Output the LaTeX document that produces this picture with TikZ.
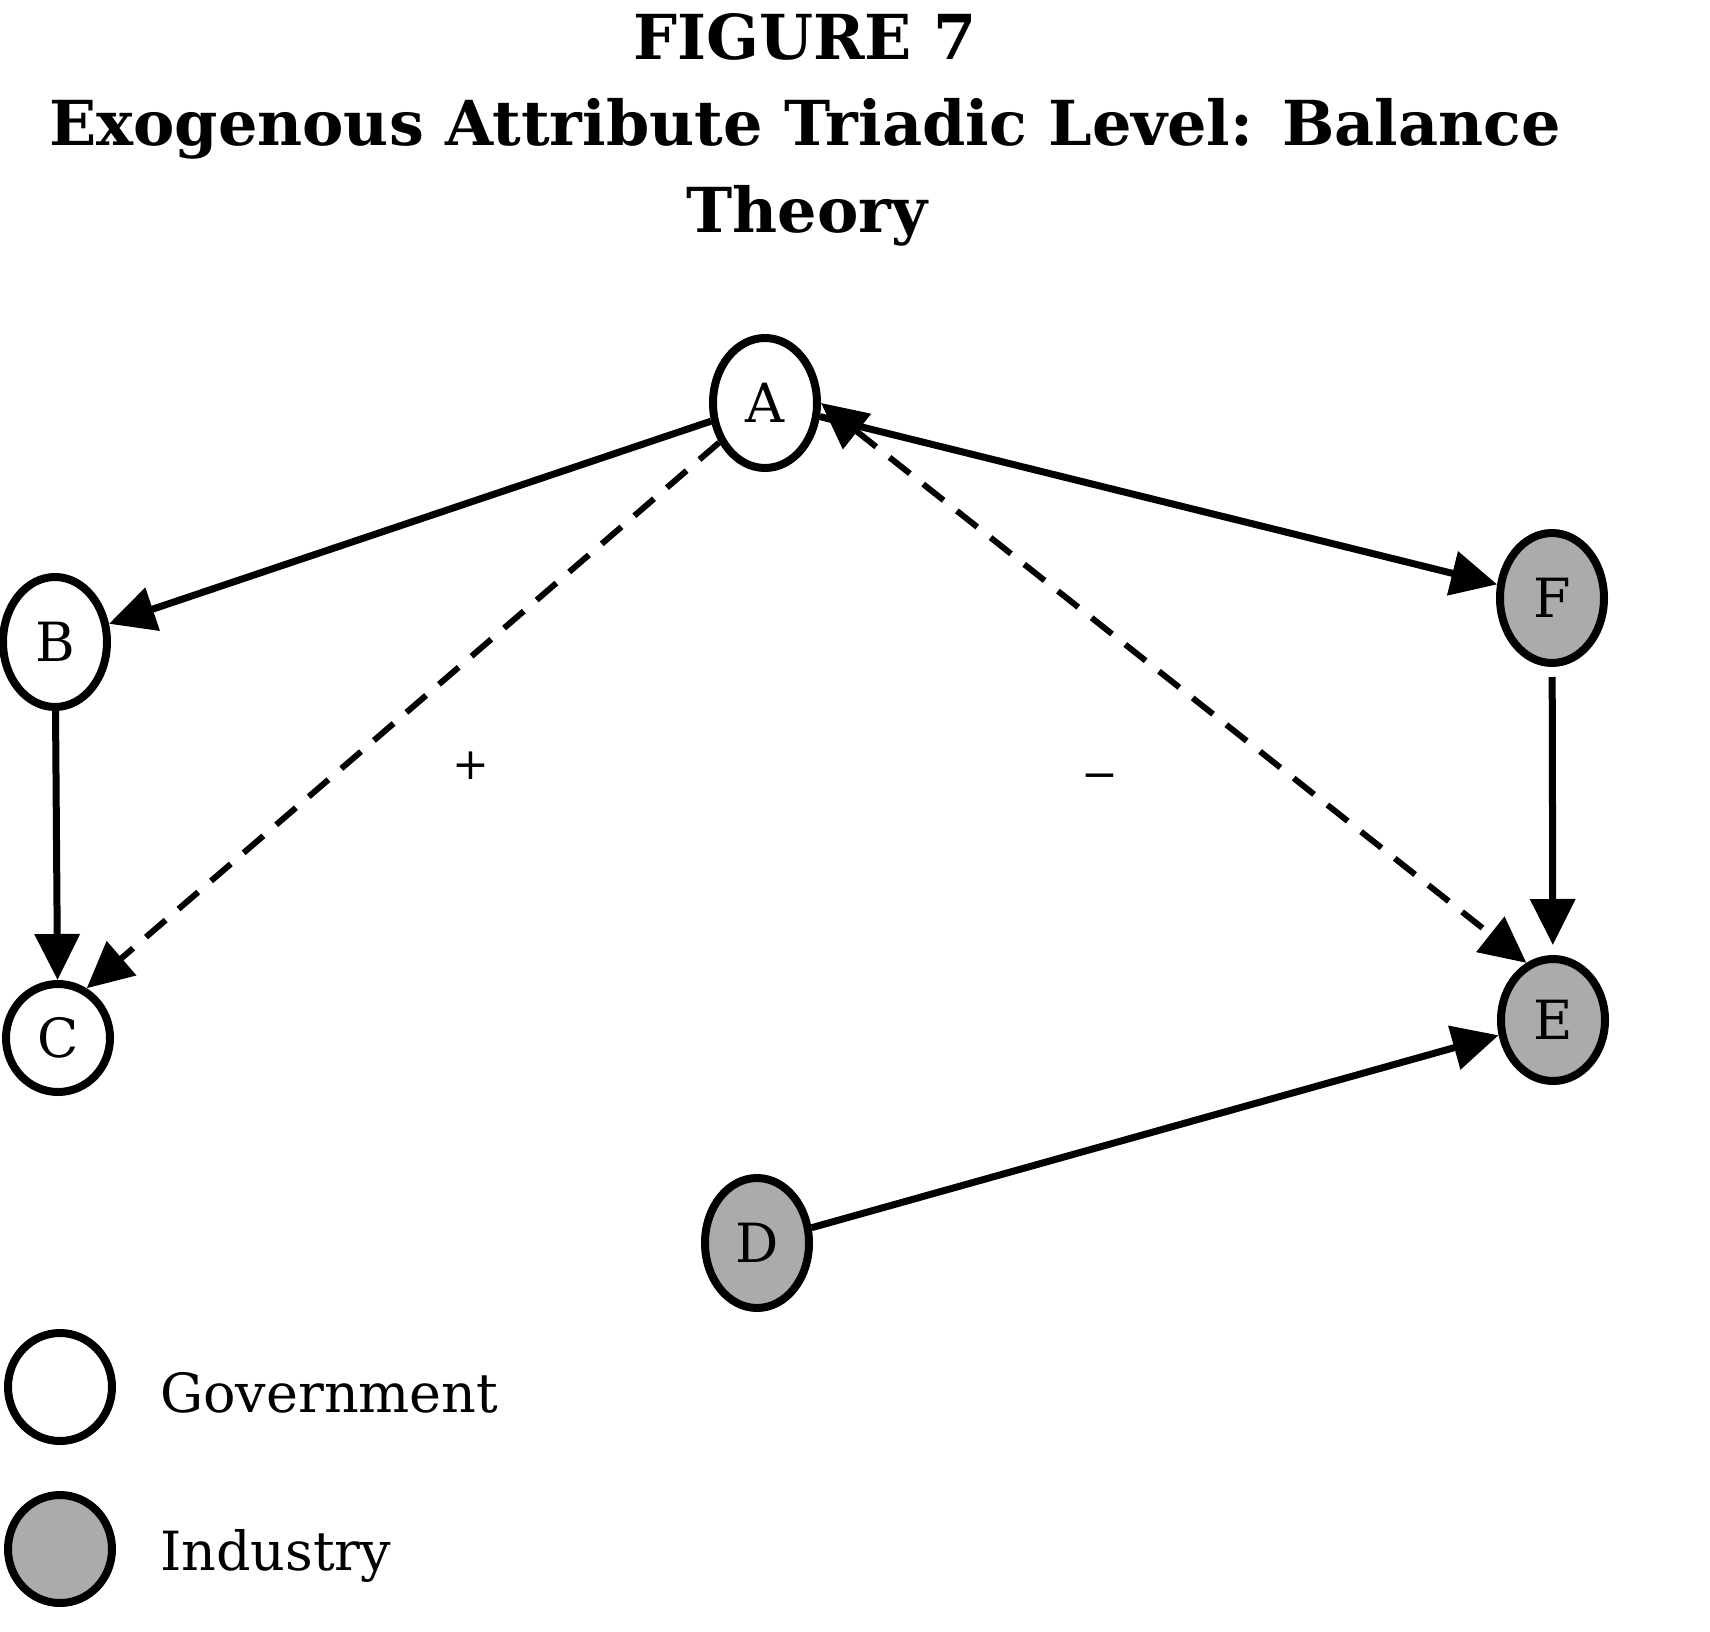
\documentclass[tikz,border=0pt]{standalone}
\usepackage{fontspec}
\setmainfont{DejaVu Serif}
\usetikzlibrary{arrows.meta,shapes.geometric}
\definecolor{TriadLine}{HTML}{000000}
\definecolor{TriadIndustry}{HTML}{ABABAB}

\begin{document}
\begin{tikzpicture}[x=0.5pt,y=-0.5pt,
    actor/.style={ellipse,draw=TriadLine,line width=4pt,inner sep=0pt,
      minimum width=52pt,minimum height=65pt,font=\fontsize{27}{30}\selectfont},
    gov/.style={actor,fill=white},
    ind/.style={actor,fill=TriadIndustry},
    tip/.tip={Triangle[length=23pt,width=22pt]},
    tie/.style={draw=TriadLine,line width=3.5pt,-tip},
    signtie/.style={tie,line width=3pt,dash pattern=on 13pt off 8.5pt},
    heading/.style={anchor=base,font=\bfseries\fontsize{31}{36}\selectfont},
    legendtext/.style={anchor=base west,font=\fontsize{27}{30}\selectfont}]
    \useasboundingbox (0,0) rectangle (1710,1632);

    % title
    \node[heading] (t1) at (805,60) {FIGURE 7};
    \node[heading] (t2) at (805,146) {Exogenous Attribute Triadic Level: Balance};
    \node[heading] (t3) at (807,233) {Theory};

    % actors
    \node[gov] (A) at (765,403) {A};
    \node[gov] (B) at (55,642) {B};
    \node[gov,minimum height=54pt] (C) at (58,1038) {C};
    \node[ind] (D) at (757,1243) {D};
    \node[ind,minimum height=61pt] (E) at (1553,1020) {E};
    \node[ind] (F) at (1552,598) {F};

    % ties
    \draw[tie] (A) -- (B);
    \draw[tie] (B) -- (C);
    \draw[tie] (A) -- (F);
    \draw[tie,shorten <=5pt,shorten >=5pt] (F) -- (E);
    \draw[tie] (D) -- (E);
    \draw[signtie] (A) -- (C.60);
    \draw[signtie,tip-tip] (A.east) -- (E.115);
    \node[font=\fontsize{22}{24}\selectfont] (plus) at (471,766) {+};
    \node[font=\fontsize{22}{24}\selectfont] (minus) at (1100,782) {−};

    % legend
    \node[gov,minimum height=54pt] (gkey) at (60,1387) {};
    \node[ind,minimum height=54pt] (ikey) at (60,1549) {};
    \node[legendtext] (gtext) at (153,1412) {Government};
    \node[legendtext] (itext) at (153,1570) {Industry};
  \end{tikzpicture}
\end{document}
